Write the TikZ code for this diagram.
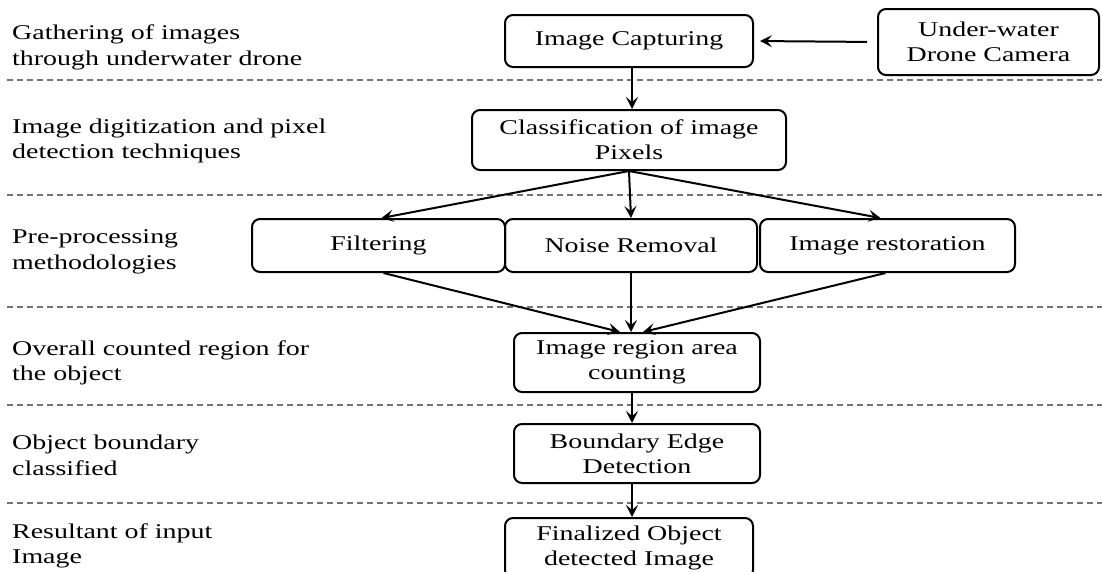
\documentclass[tikz,border=0pt]{standalone}
\usepackage{fontspec}
\setmainfont{Liberation Serif}[FakeStretch=1.33]
\usetikzlibrary{arrows.meta,calc}

\tikzset{
  stage/.style={draw, line width=2pt, rounded corners=8pt, inner sep=0pt,
    align=center, font=\fontsize{21}{25}\selectfont},
  lane/.style={anchor=west, align=left, inner sep=0pt,
    font=\fontsize{21}{25.5}\selectfont},
  divider/.style={draw=black!55, line width=1.1pt, dash pattern=on 6pt off 4pt},
  flow/.style={line width=2pt, -{Stealth[length=12pt,width=12pt,inset=5pt]}},
}

\begin{document}
\begin{tikzpicture}[x=1pt, y=-1pt]
  \useasboundingbox (0,0) rectangle (1102,571);

  % lane separators
  \foreach \yy in {80,195,307,405,503}
    \draw[divider] (7,\yy) -- (1102,\yy);

  % lane descriptions
  \node[lane] (l1) at (12,47.5) {Gathering of images\\through underwater drone};
  \node[lane] (l2) at (12,141) {Image digitization and pixel\\detection techniques};
  \node[lane] (l3) at (12,252) {Pre-processing\\methodologies};
  \node[lane] (l4) at (12,363) {Overall counted region for\\the object};
  \node[lane] (l5) at (12,455.5) {Object boundary\\classified};
  \node[lane] (l6) at (12,546) {Resultant of input\\Image};

  % processing stages
  \node[stage, minimum width=248pt, minimum height=52pt] (cap) at (629,41) {Image Capturing};
  \node[stage, minimum width=221pt, minimum height=66pt] (cam) at (988.5,42) {Under-water\\Drone Camera};
  \node[stage, minimum width=314pt, minimum height=60pt] (cls) at (629,140) {Classification of image\\Pixels};
  \node[stage, minimum width=253pt, minimum height=53pt] (filt) at (378.5,245.5) {Filtering};
  \node[stage, minimum width=252pt, minimum height=53pt] (noise) at (631,245.5) {Noise Removal};
  \node[stage, minimum width=255pt, minimum height=53pt] (rest) at (887.5,245.5) {Image restoration};
  \node[stage, minimum width=246pt, minimum height=59pt] (area) at (637,362.5) {Image region area\\counting};
  \node[stage, minimum width=246pt, minimum height=59pt] (bnd) at (637,453.5) {Boundary Edge\\Detection};
  \node[stage, minimum width=248pt, minimum height=60pt] (fin) at (629,548) {Finalized Object\\detected Image};

  % connectors
  \draw[flow, shorten <=10pt, shorten >=6pt] (cam.west) -- (cap.east);
  \draw[flow] ($(cap.south)+(3,0)$) -- ($(cls.north)+(3,0)$);
  \draw[flow] (cls.south) -- ($(filt.north)+(3,0)$);
  \draw[flow] (cls.south) -- (noise.north);
  \draw[flow] (cls.south) -- ($(rest.north)+(-7,0)$);
  \draw[flow] ($(filt.south)+(5,0)$) -- ($(area.north)+(-17,0)$);
  \draw[flow] (noise.south) -- ($(area.north)+(-6,0)$);
  \draw[flow] ($(rest.south)+(-2,0)$) -- ($(area.north)+(6,0)$);
  \draw[flow] ($(area.south)+(-5,0)$) -- ($(bnd.north)+(-5,0)$);
  \draw[flow] ($(bnd.south)+(-5,0)$) -- ($(fin.north)+(3,0)$);
\end{tikzpicture}
\end{document}
